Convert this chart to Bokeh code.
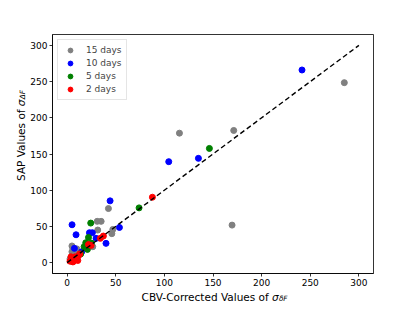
import numpy as np
from bokeh.plotting import figure
from bokeh.layouts import row, column
from bokeh.models import Range1d, FixedTicker, Label, Legend, LegendItem
from bokeh.embed import file_html
from bokeh.resources import INLINE

# ---- data ----
x15 = [285, 115.5, 171.3, 169.6, 42.5, 31, 35, 31.5, 46, 47, 26.4, 5, 5, 8, 10, 6, 3, 12]
y15 = [248.5, 178.8, 182.5, 51.8, 74.7, 57, 57, 45, 40, 45.8, 22, 23, 15, 17, 19, 20, 5, 14]
x10 = [241.5, 104.5, 135, 44.2, 53.8, 5.1, 9.2, 23, 26, 29.8, 40, 7.5, 15, 10]
y10 = [266, 139.4, 144, 85.3, 48.6, 52.3, 38.5, 41.3, 41.3, 33.5, 26.6, 19.7, 15, 8]
x5 = [146.3, 74, 24.3, 22, 19.2, 17.5, 20.9, 25, 14, 5]
y5 = [157.7, 75.6, 54.6, 34.8, 27.5, 22, 18.3, 27, 12, 2]
x2 = [87.7, 37.3, 34.2, 24.7, 22, 3, 5, 7, 8, 10, 12, 13, 6, 4, 11]
y2 = [90.3, 36.7, 33.5, 23.8, 25, 2, 5, 3, 8, 6, 10, 12, 1, 8, 3]
line_x = [0, 300]
line_y = [0, 300]
ticks = [0, 50, 100, 150, 200, 250, 300]
series_labels = ["15 days", "10 days", "5 days", "2 days"]
series_colors = ["gray", "blue", "green", "red"]
x_label_main, x_label_sym, x_label_sub = "CBV-Corrected Values of", "σ", "δF"
y_label_main, y_label_sym, y_label_sub = "SAP Values of", "σ", "ΔF"

TOTAL_W, TOTAL_H = 407, 303
YL_W = 27          # strip holding the y label
XL_H = 14          # strip holding the x label
PW, PH = TOTAL_W - YL_W, TOTAL_H - XL_H
BL, BR, BT, BB = 25, 34, 34, 16
XR = (-15, 315)
YR = (-15, 315)
FONT = "DejaVu Sans"

p = figure(width=PW, height=PH, output_backend="svg", toolbar_location=None,
           x_range=Range1d(*XR), y_range=Range1d(*YR),
           min_border_left=BL, min_border_right=BR, min_border_top=BT, min_border_bottom=BB)
p.xgrid.visible = False
p.ygrid.visible = False
p.outline_line_color = "black"
p.outline_line_width = 0.8
p.background_fill_color = "white"
p.border_fill_color = "white"

for ax in (p.xaxis[0], p.yaxis[0]):
    ax.ticker = FixedTicker(ticks=ticks)
    ax.minor_tick_line_color = None
    ax.major_tick_in = 0
    ax.major_tick_out = 3
    ax.major_tick_line_color = "black"
    ax.major_tick_line_width = 0.8
    ax.axis_line_color = "black"
    ax.axis_line_width = 0.8
    ax.major_label_text_font = FONT
    ax.major_label_text_font_size = "9px"
    ax.major_label_text_color = "black"
    ax.major_label_standoff = 2
    ax.axis_label = None

renderers = []
for xs, ys, c in zip([x15, x10, x5, x2], [y15, y10, y5, y2], series_colors):
    r = p.scatter(xs, ys, size=6, color=c, line_color=c, marker="circle")
    renderers.append(r)

p.line(line_x, line_y, line_color="black", line_width=1.4, line_dash="5 3")

legend = Legend(items=[LegendItem(label=l, renderers=[r]) for l, r in zip(series_labels, renderers)],
                location="top_left", margin=5, padding=4, spacing=1,
                glyph_width=16, glyph_height=12, label_height=12, label_standoff=8,
                label_text_font=FONT, label_text_font_size="9px",
                border_line_color="#cccccc", border_line_width=1,
                background_fill_color="white", background_fill_alpha=0.8)
p.add_layout(legend)


def strip(w, h):
    f = figure(width=w, height=h, output_backend="svg", toolbar_location=None,
               x_axis_location=None, y_axis_location=None,
               x_range=Range1d(0, 1), y_range=Range1d(0, 1),
               min_border_left=0, min_border_right=0, min_border_top=0, min_border_bottom=0)
    f.xgrid.visible = False
    f.ygrid.visible = False
    f.outline_line_color = None
    f.background_fill_color = "white"
    f.border_fill_color = "white"
    return f


def lab(x, y, text, size="10.5px", align="left", italic=False, angle=0.0):
    # screen units: from the strip's bottom-left corner
    return Label(x=x, y=y, x_units="screen", y_units="screen", text=text,
                 text_align=align, text_baseline="alphabetic", angle=angle,
                 text_font=FONT, text_font_size=size, text_color="black",
                 text_font_style="italic" if italic else "normal")


# x label strip (bottom of the page)
xl = strip(TOTAL_W, XL_H)
A = 268.2          # page x where "of" ends
xs_base = 7.0      # nominal baseline height above the strip bottom
xl.add_layout(lab(A, xs_base, x_label_main, align="right"))
xl.add_layout(lab(A + 3.3, xs_base, x_label_sym, italic=True))
xl.add_layout(lab(A + 10.2, xs_base - 1.8, x_label_sub, size="7.3px", italic=True))

# y label strip (left of the page)
yl = strip(YL_W, PH)
yA = 125.0         # page y where "of" ends
yx = 20.5          # nominal page x of baseline
yl.add_layout(lab(yx, PH - yA, y_label_main, align="right", angle=np.pi / 2))
yl.add_layout(lab(yx, PH - (yA - 3.3), y_label_sym, italic=True, angle=np.pi / 2))
yl.add_layout(lab(yx + 1.8, PH - (yA - 10.2), y_label_sub, size="7.3px", italic=True, angle=np.pi / 2))

layout = column(row(yl, p, spacing=0), xl, spacing=0)

open("out.html", "w").write(file_html(layout, INLINE))
